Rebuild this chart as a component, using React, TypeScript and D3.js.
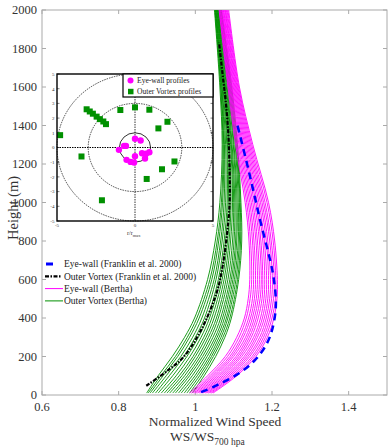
import React from "react";
import * as d3 from "d3";

// heights (m) at which the Bertha profiles are read
const greenHeights = [10, 100, 200, 300, 400, 600, 800, 1000, 1300, 1600, 2000];
const greenProfiles = [
  [0.873, 0.903, 0.94, 0.972, 0.998, 1.032, 1.052, 1.064, 1.07, 1.064, 1.05],
  [0.877, 0.91, 0.948, 0.979, 1.004, 1.038, 1.057, 1.068, 1.072, 1.066, 1.051],
  [0.882, 0.916, 0.954, 0.985, 1.01, 1.043, 1.061, 1.071, 1.074, 1.067, 1.052],
  [0.888, 0.924, 0.962, 0.993, 1.017, 1.049, 1.066, 1.075, 1.076, 1.069, 1.053],
  [0.896, 0.932, 0.97, 1.0, 1.024, 1.054, 1.07, 1.079, 1.079, 1.07, 1.054],
  [0.903, 0.941, 0.978, 1.008, 1.031, 1.06, 1.075, 1.083, 1.082, 1.072, 1.055],
  [0.911, 0.95, 0.986, 1.015, 1.037, 1.065, 1.079, 1.086, 1.084, 1.074, 1.056],
  [0.919, 0.958, 0.994, 1.022, 1.043, 1.07, 1.084, 1.09, 1.087, 1.076, 1.057],
  [0.926, 0.965, 1.0, 1.028, 1.049, 1.075, 1.088, 1.093, 1.089, 1.077, 1.058],
  [0.933, 0.972, 1.007, 1.034, 1.055, 1.08, 1.092, 1.097, 1.092, 1.079, 1.059],
  [0.941, 0.979, 1.013, 1.04, 1.06, 1.085, 1.097, 1.1, 1.094, 1.081, 1.06],
  [0.948, 0.985, 1.019, 1.046, 1.066, 1.09, 1.101, 1.103, 1.096, 1.083, 1.061],
  [0.956, 0.992, 1.025, 1.052, 1.071, 1.094, 1.105, 1.106, 1.099, 1.085, 1.063],
  [0.963, 0.999, 1.031, 1.057, 1.076, 1.098, 1.108, 1.109, 1.101, 1.087, 1.064],
  [0.971, 1.005, 1.037, 1.062, 1.081, 1.102, 1.112, 1.112, 1.104, 1.089, 1.065],
  [0.978, 1.011, 1.042, 1.067, 1.085, 1.106, 1.115, 1.115, 1.106, 1.091, 1.066],
  [0.985, 1.017, 1.047, 1.072, 1.09, 1.11, 1.118, 1.117, 1.108, 1.093, 1.067],
  [0.992, 1.023, 1.053, 1.077, 1.094, 1.113, 1.121, 1.119, 1.11, 1.095, 1.068],
];

const magentaHeights = [10, 100, 200, 300, 400, 500, 600, 800, 1000, 1300, 1600, 2000];
const magentaProfiles = [
  [0.985, 1.032, 1.078, 1.108, 1.128, 1.138, 1.142, 1.14, 1.13, 1.105, 1.085, 1.062],
  [0.99, 1.038, 1.084, 1.114, 1.133, 1.143, 1.147, 1.144, 1.134, 1.108, 1.087, 1.063],
  [0.994, 1.043, 1.09, 1.12, 1.139, 1.149, 1.152, 1.149, 1.138, 1.111, 1.089, 1.065],
  [0.998, 1.048, 1.095, 1.125, 1.144, 1.154, 1.157, 1.153, 1.142, 1.114, 1.091, 1.066],
  [1.002, 1.053, 1.1, 1.131, 1.149, 1.159, 1.162, 1.158, 1.146, 1.117, 1.093, 1.068],
  [1.006, 1.058, 1.106, 1.136, 1.154, 1.164, 1.167, 1.162, 1.15, 1.12, 1.095, 1.07],
  [1.01, 1.063, 1.111, 1.141, 1.159, 1.169, 1.172, 1.167, 1.154, 1.123, 1.097, 1.071],
  [1.014, 1.068, 1.116, 1.146, 1.164, 1.174, 1.176, 1.171, 1.158, 1.126, 1.099, 1.073],
  [1.018, 1.073, 1.121, 1.152, 1.17, 1.179, 1.181, 1.176, 1.162, 1.129, 1.101, 1.074],
  [1.022, 1.078, 1.127, 1.157, 1.175, 1.184, 1.186, 1.18, 1.166, 1.132, 1.103, 1.076],
  [1.026, 1.083, 1.132, 1.162, 1.18, 1.189, 1.191, 1.185, 1.17, 1.135, 1.105, 1.078],
  [1.03, 1.088, 1.137, 1.168, 1.185, 1.194, 1.196, 1.189, 1.174, 1.138, 1.107, 1.079],
  [1.034, 1.093, 1.142, 1.173, 1.19, 1.199, 1.201, 1.194, 1.178, 1.141, 1.109, 1.081],
  [1.038, 1.098, 1.148, 1.178, 1.195, 1.204, 1.206, 1.198, 1.182, 1.144, 1.111, 1.083],
  [1.042, 1.103, 1.153, 1.183, 1.2, 1.209, 1.21, 1.203, 1.187, 1.147, 1.113, 1.085],
  [1.046, 1.108, 1.158, 1.188, 1.205, 1.213, 1.214, 1.207, 1.191, 1.15, 1.115, 1.087],
];

// Franklin et al. 2000 mean profiles
const eyeFranklinH = [15, 40, 113, 180, 251, 329, 459, 600, 701, 900, 1047, 1200, 1400];
const eyeFranklinV = [1.015, 1.045, 1.114, 1.155, 1.182, 1.199, 1.21, 1.205, 1.195, 1.17, 1.153, 1.135, 1.11];
const outerFranklinH = [48, 130, 199, 338, 528, 667, 900, 1030, 1200, 1360, 1530, 1650, 1830];
const outerFranklinV = [0.872, 0.93, 0.97, 1.015, 1.055, 1.071, 1.086, 1.09, 1.089, 1.086, 1.079, 1.072, 1.062];

// inset: profile positions in r/rmax
const eyeX = [0, 0.36, -1.03, -0.7, -0.58, 0, 0.45, 0.7, 0.92, 0.64, -0.54, -0.28, -0.06];
const eyeY = [0.6, 0.48, -0.16, 0.11, 0.11, -0.6, -0.39, -0.43, -0.32, -0.75, -0.84, -0.98, -1.02];
const outerX = [-4.8, -3.1, -2.9, -2.7, -2.46, -2.25, -2.03, -1.86, -0.94, 0, 0.92, 2.08, 1.5, -3.43, -2.12, 0.75, 1.73, 2.53];
const outerY = [0.84, 2.6, 2.45, 2.3, 2.1, 1.93, 1.77, 1.59, 2.55, 2.73, 2.57, 1.75, 1.3, -0.61, -3.59, -2.14, -1.48, -0.95];

const xTicks = [0.6, 0.8, 1, 1.2, 1.4];
const yTicks = [0, 200, 400, 600, 800, 1000, 1200, 1400, 1600, 1800, 2000];
const insetTicks = [-5, -4, -3, -2, -1, 0, 1, 2, 3, 4, 5];
const rings = [1, 3, 5];

const legendItems = [
  "Eye-wall (Franklin et al. 2000)",
  "Outer Vortex (Franklin et al. 2000)",
  "Eye-wall (Bertha)",
  "Outer Vortex (Bertha)",
];

const W = 391;
const H = 447;
const FONT = "Tinos, 'Noto Serif', FreeSerif, 'Nimbus Roman', 'Liberation Serif', 'DejaVu Serif', Times, serif";
const MAGENTA = "#ff00ff";
const GREEN = "#009000";

export default function App() {
  const x = d3.scaleLinear().domain([0.6, 1.5]).range([42, 387]);
  const y = d3.scaleLinear().domain([0, 2000]).range([395, 10]);
  const ix = d3.scaleLinear().domain([-5, 5]).range([57, 213]);
  const iy = d3.scaleLinear().domain([-5, 5]).range([221, 74]);

  const line = d3
    .line<[number, number]>()
    .x((d) => x(d[0]))
    .y((d) => y(d[1]))
    .curve(d3.curveCatmullRom.alpha(0.5));

  const path = (hs: number[], vs: number[]) =>
    line(vs.map((v, i) => [v, hs[i]] as [number, number])) || "";

  const [x0, x1] = x.range();
  const [y0, y1] = y.range();

  return (
    <svg
      width={W}
      height={H}
      style={{ position: "absolute", left: 0, top: 0, background: "#fff", fontFamily: FONT }}
    >
      <defs>
        <clipPath id="plot-clip">
          <rect x={x0} y={y1} width={x1 - x0} height={y0 - y1} />
        </clipPath>
      </defs>

      {/* frame and inside ticks */}
      <rect x={x0} y={y1} width={x1 - x0} height={y0 - y1} fill="none" stroke="#aaa" strokeWidth={1} />
      {xTicks.map((t) => (
        <g key={"xt" + t}>
          <line x1={x(t)} x2={x(t)} y1={y0} y2={y0 - 4} stroke="#aaa" />
          <line x1={x(t)} x2={x(t)} y1={y1} y2={y1 + 4} stroke="#aaa" />
          <text x={x(t)} y={411} textAnchor="middle" fontSize={12.5} fill="#333">
            {t === 1 ? "1" : t.toFixed(1)}
          </text>
        </g>
      ))}
      {yTicks.map((t) => (
        <g key={"yt" + t}>
          <line x1={x0} x2={x0 + 4} y1={y(t)} y2={y(t)} stroke="#aaa" />
          <line x1={x1} x2={x1 - 4} y1={y(t)} y2={y(t)} stroke="#aaa" />
          <text x={37} y={y(t) + 4.3} textAnchor="end" fontSize={12.5} fill="#333">
            {t}
          </text>
        </g>
      ))}

      <text
        transform="translate(18,208) rotate(-90)"
        textAnchor="middle"
        fontSize={14.5}
        fill="#333"
      >
        Height (m)
      </text>
      <text x={215} y={426} textAnchor="middle" fontSize={13.5} fill="#333">
        Normalized Wind Speed
      </text>
      <text x={170} y={441} fontSize={13.5} fill="#333">
        WS/WS
        <tspan dy={4} fontSize={9.5}>
          700 hpa
        </tspan>
      </text>

      {/* profiles */}
      <g clipPath="url(#plot-clip)" fill="none">
        {greenProfiles.map((p, i) => (
          <path key={"g" + i} d={path(greenHeights, p)} stroke={GREEN} strokeWidth={0.9} />
        ))}
        <path
          d={path(outerFranklinH, outerFranklinV)}
          stroke="#000"
          strokeWidth={2.2}
          strokeDasharray="4,1.5,1.5,1.5"
        />
        {magentaProfiles.map((p, i) => (
          <path key={"m" + i} d={path(magentaHeights, p)} stroke={MAGENTA} strokeWidth={0.9} />
        ))}
        <path
          d={path(eyeFranklinH, eyeFranklinV)}
          stroke="#0000ff"
          strokeWidth={2.5}
          strokeDasharray="7,5"
        />
      </g>

      {/* main legend */}
      {legendItems.map((label, i) => {
        const ly = 264 + i * 12.3;
        return (
          <g key={label}>
            {i === 0 && <line x1={46} x2={53} y1={ly} y2={ly} stroke="#0000ff" strokeWidth={3} />}
            {i === 1 && (
              <line x1={45} x2={62} y1={ly} y2={ly} stroke="#000" strokeWidth={2.2} strokeDasharray="4,1.5,1.5,1.5" />
            )}
            {i === 2 && <line x1={45} x2={63} y1={ly} y2={ly} stroke={MAGENTA} strokeWidth={1} />}
            {i === 3 && <line x1={45} x2={63} y1={ly} y2={ly} stroke={GREEN} strokeWidth={1} />}
            <text x={64} y={ly + 3.3} fontSize={9.5} fill="#222">
              {label}
            </text>
          </g>
        );
      })}

      {/* inset */}
      <g>
        <rect x={57} y={74} width={156} height={147} fill="#fff" />
        {rings.map((r) => (
          <ellipse
            key={"r" + r}
            cx={ix(0)}
            cy={iy(0)}
            rx={ix(r) - ix(0)}
            ry={iy(0) - iy(r)}
            fill="none"
            stroke="#000"
            strokeWidth={r === 1 ? 0.8 : 0.7}
            strokeDasharray={r === 1 ? undefined : "1.5,1"}
          />
        ))}
        <line x1={57} x2={213} y1={iy(0)} y2={iy(0)} stroke="#000" strokeWidth={1.2} strokeDasharray="1.5,1" />
        <line x1={ix(0)} x2={ix(0)} y1={74} y2={221} stroke="#000" strokeWidth={0.8} strokeDasharray="1.5,1" />
        {insetTicks.map((t) => (
          <g key={"it" + t}>
            <line x1={57} x2={59.5} y1={iy(t)} y2={iy(t)} stroke="#000" strokeWidth={0.5} />
            <line x1={213} x2={210.5} y1={iy(t)} y2={iy(t)} stroke="#000" strokeWidth={0.5} />
            <text x={54.5} y={iy(t) + 1.8} textAnchor="end" fontSize={5} fill="#333">
              {t}
            </text>
          </g>
        ))}
        {[-5, 0, 5].map((t) => (
          <text key={"ib" + t} x={ix(t)} y={227} textAnchor="middle" fontSize={5} fill="#333">
            {t}
          </text>
        ))}
        <text x={127} y={235} fontSize={6} fill="#333">
          r/r
          <tspan dy={2} fontSize={4.5}>
            max
          </tspan>
        </text>
        {outerX.map((v, i) => (
          <rect key={"os" + i} x={ix(v) - 3} y={iy(outerY[i]) - 3} width={6} height={6} fill={GREEN} />
        ))}
        {eyeX.map((v, i) => (
          <circle key={"ec" + i} cx={ix(v)} cy={iy(eyeY[i])} r={3.2} fill={MAGENTA} />
        ))}
        <rect x={57} y={74} width={156} height={147} fill="none" stroke="#000" strokeWidth={1.4} />

        {/* inset legend */}
        <rect x={123} y={74} width={90} height={23} fill="#fff" stroke="#000" strokeWidth={1.2} />
        <circle cx={130.5} cy={80.5} r={3} fill={MAGENTA} />
        <text x={137} y={83.2} fontSize={7.6} fill="#222">
          Eye-wall profiles
        </text>
        <rect x={128} y={88.8} width={5.5} height={5.5} fill={GREEN} />
        <text x={137} y={94.3} fontSize={7.6} fill="#222">
          Outer Vortex profiles
        </text>
      </g>
    </svg>
  );
}
